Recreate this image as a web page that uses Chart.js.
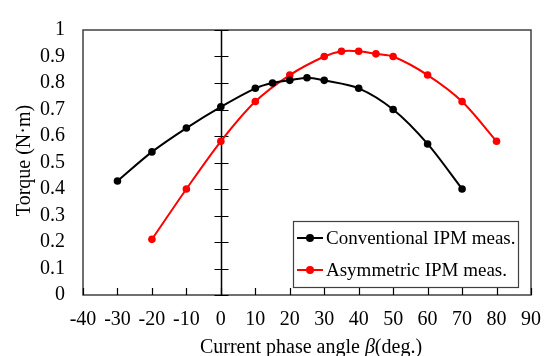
<!DOCTYPE html>
<html>
<head>
<meta charset="utf-8">
<script src="https://cdn.jsdelivr.net/npm/chart.js@4/dist/chart.umd.min.js"></script>
<style>
  html, body { margin: 0; padding: 0; background: #fff; }
  #wrap { width: 554px; height: 356px; position: relative; }
</style>
</head>
<body>
<div id="wrap"><canvas id="graph" width="554" height="356"></canvas></div>
<script>
// data
const conventionalAngle = [-30, -20, -10, 0, 10, 15, 20, 25, 30, 40, 50, 60, 70];
const conventionalTorque = [0.43, 0.54, 0.63, 0.71, 0.78, 0.80, 0.81, 0.82, 0.81, 0.78, 0.70, 0.57, 0.40];
const asymmetricAngle = [-20, -10, 0, 10, 20, 30, 35, 40, 45, 50, 60, 70, 80];
const asymmetricTorque = [0.21, 0.40, 0.58, 0.73, 0.83, 0.90, 0.92, 0.92, 0.91, 0.90, 0.83, 0.73, 0.58];
const xTicks = [-40, -30, -20, -10, 0, 10, 20, 30, 40, 50, 60, 70, 80, 90];
const yTicks = [0, 0.1, 0.2, 0.3, 0.4, 0.5, 0.6, 0.7, 0.8, 0.9, 1];
const yTickLabels = ['0', '0.1', '0.2', '0.3', '0.4', '0.5', '0.6', '0.7', '0.8', '0.9', '1'];
const seriesNames = ['Conventional IPM meas.', 'Asymmetric IPM meas.'];
const seriesColors = ['#000000', '#ff0000'];

const FONT = '"Liberation Serif", "Times New Roman", serif';

const toPoints = (xs, ys) => xs.map((x, i) => ({ x: x, y: ys[i] }));

/**
 * frame, zero axis, ticks, titles and legend
 */
const axesDecor = {
  id: 'axesDecor',
  beforeDatasetsDraw(chart) {
    const ctx = chart.ctx,
      a = chart.chartArea,
      xs = chart.scales.x,
      ys = chart.scales.y;

    ctx.save();
    ctx.strokeStyle = '#404040';
    ctx.lineWidth = 1.5;
    ctx.strokeRect(a.left, a.top, a.right - a.left, a.bottom - a.top);

    // ticks on the bottom axis, pointing inward
    ctx.strokeStyle = '#000';
    ctx.lineWidth = 1.2;
    ctx.beginPath();
    for (let v of xTicks) {
      const px = Math.round(xs.getPixelForValue(v)) + 0.5;
      ctx.moveTo(px, a.bottom);
      ctx.lineTo(px, a.bottom - 7);
    }
    ctx.stroke();

    // vertical axis at beta = 0 with crossing ticks
    const x0 = Math.round(xs.getPixelForValue(0)) + 0.5;
    ctx.lineWidth = 1.5;
    ctx.beginPath();
    ctx.moveTo(x0, a.top);
    ctx.lineTo(x0, a.bottom);
    ctx.stroke();
    ctx.lineWidth = 1.2;
    ctx.beginPath();
    for (let v of yTicks) {
      const py = Math.round(ys.getPixelForValue(v)) + 0.5;
      ctx.moveTo(x0 - 7, py);
      ctx.lineTo(x0 + 7, py);
    }
    ctx.stroke();
    ctx.restore();
  },
  afterDatasetsDraw(chart) {
    const ctx = chart.ctx,
      a = chart.chartArea;

    ctx.save();
    // legend box
    const bx = 293, by = 221, bw = 225, bh = 66;
    ctx.fillStyle = '#fff';
    ctx.fillRect(bx, by, bw, bh);
    ctx.strokeStyle = '#404040';
    ctx.lineWidth = 1.2;
    ctx.strokeRect(bx + 0.5, by + 0.5, bw, bh);

    const rows = [238, 270];
    ctx.font = '19px ' + FONT;
    ctx.textBaseline = 'middle';
    ctx.textAlign = 'left';
    seriesNames.forEach((name, i) => {
      const y = rows[i];
      ctx.strokeStyle = seriesColors[i];
      ctx.fillStyle = seriesColors[i];
      ctx.lineWidth = 2;
      ctx.beginPath();
      ctx.moveTo(297, y);
      ctx.lineTo(323, y);
      ctx.stroke();
      ctx.beginPath();
      ctx.arc(310, y, 4, 0, Math.PI * 2);
      ctx.fill();
      ctx.fillStyle = '#000';
      ctx.fillText(name, 326, y + 1);
    });

    // x title with italic beta
    ctx.fillStyle = '#000';
    ctx.textBaseline = 'alphabetic';
    const parts = [
      ['20px ' + FONT, 'Current phase angle '],
      ['italic 20px ' + FONT, 'β'],
      ['20px ' + FONT, '(deg.)']
    ];
    let total = 0;
    for (let p of parts) {
      ctx.font = p[0];
      total += ctx.measureText(p[1]).width;
    }
    let tx = (a.left + a.right) / 2 + 4 - total / 2;
    for (let p of parts) {
      ctx.font = p[0];
      ctx.fillText(p[1], tx, 353);
      tx += ctx.measureText(p[1]).width;
    }

    // y title
    ctx.translate(30, (a.top + a.bottom) / 2 - 2);
    ctx.rotate(-Math.PI / 2);
    ctx.font = '20px ' + FONT;
    ctx.textAlign = 'center';
    ctx.fillText('Torque (N·m)', 0, 0);
    ctx.restore();
  }
};

const initGraph = () => {
  const graph = document.getElementById('graph');

  new Chart(graph, {
    type: 'line',
    data: {
      datasets: [{
        label: seriesNames[0],
        data: toPoints(conventionalAngle, conventionalTorque),
        borderColor: seriesColors[0],
        backgroundColor: seriesColors[0],
        borderWidth: 2,
        pointRadius: 3.8,
        pointBorderWidth: 0,
        tension: 0.3
      }, {
        label: seriesNames[1],
        data: toPoints(asymmetricAngle, asymmetricTorque),
        borderColor: seriesColors[1],
        backgroundColor: seriesColors[1],
        borderWidth: 2,
        pointRadius: 3.8,
        pointBorderWidth: 0,
        tension: 0.3
      }]
    },
    options: {
      responsive: false,
      animation: false,
      layout: { padding: { top: 20, right: 21, left: 0, bottom: 0 } },
      plugins: {
        legend: { display: false },
        tooltip: { enabled: false }
      },
      scales: {
        x: {
          type: 'linear',
          min: -40,
          max: 90,
          grid: { display: false, drawTicks: false },
          border: { display: false },
          afterBuildTicks: (s) => { s.ticks = xTicks.map((v) => ({ value: v })); },
          afterFit: (s) => { s.height = 61; },
          ticks: {
            color: '#000',
            padding: 13,
            autoSkip: false,
            maxRotation: 0,
            font: { family: FONT, size: 20 }
          }
        },
        y: {
          min: 0,
          max: 1,
          grid: { display: false, drawTicks: false },
          border: { display: false },
          afterBuildTicks: (s) => { s.ticks = yTicks.map((v) => ({ value: v })); },
          afterFit: (s) => { s.width = 83; },
          ticks: {
            color: '#000',
            padding: 18,
            autoSkip: false,
            font: { family: FONT, size: 20 },
            callback: (v, i) => yTickLabels[i]
          }
        }
      }
    },
    plugins: [axesDecor]
  });
};

initGraph();
</script>
</body>
</html>
